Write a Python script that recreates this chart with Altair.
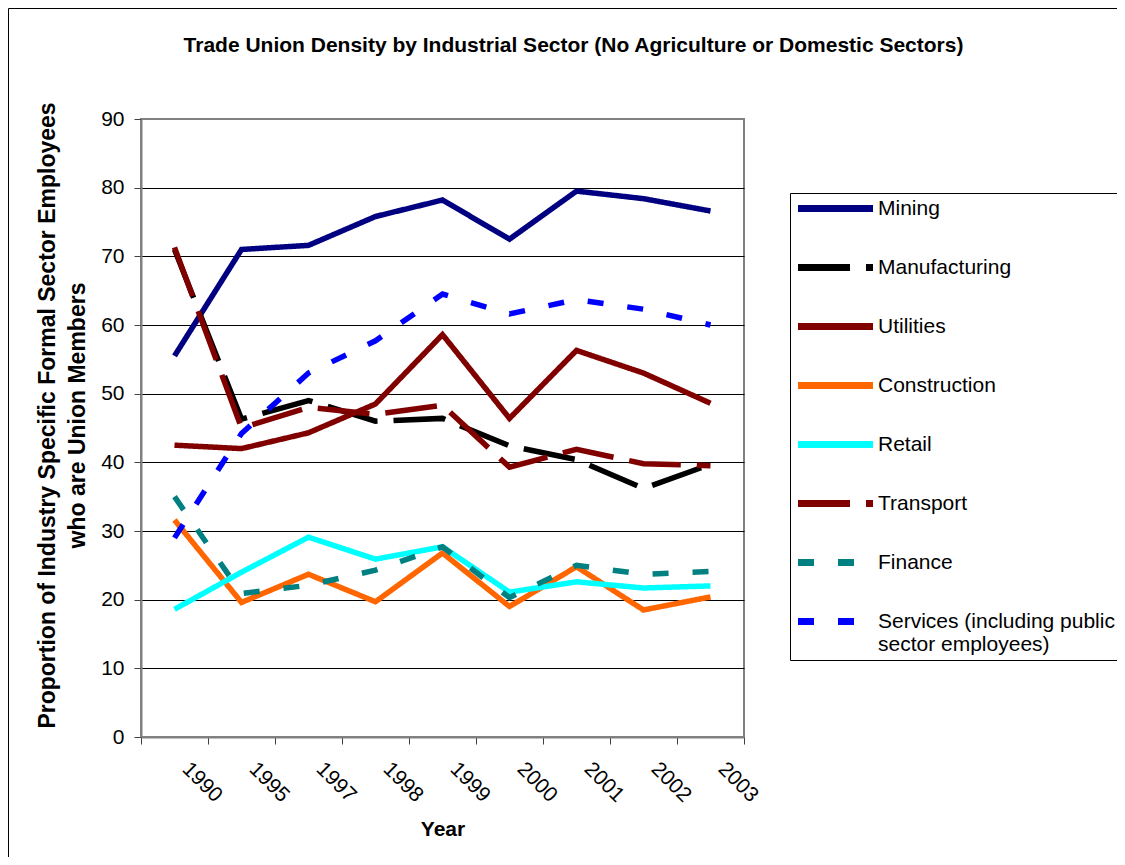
import altair as alt
import pandas as pd

years = ["1990", "1995", "1997", "1998", "1999", "2000", "2001", "2002", "2003"]
sectors = [
    "Mining",
    "Manufacturing",
    "Utilities",
    "Construction",
    "Retail",
    "Transport",
    "Finance",
    "Services (including public sector employees)",
]

mining = [55.5, 71.0, 71.6, 75.8, 78.2, 72.5, 79.5, 78.4, 76.6]
manufacturing = [71.0, 46.3, 49.0, 46.0, 46.4, 42.4, 40.4, 36.2, 39.7]
utilities = [42.5, 42.0, 44.3, 48.5, 58.6, 46.4, 56.3, 53.0, 48.6]
construction = [31.6, 19.6, 23.7, 19.7, 26.8, 19.0, 24.8, 18.5, 20.4]
retail = [18.6, 24.0, 29.1, 25.9, 27.7, 21.1, 22.6, 21.7, 22.0]
transport = [71.3, 45.0, 48.0, 47.0, 48.3, 39.3, 41.9, 39.8, 39.5]
finance = [35.0, 20.9, 22.1, 24.3, 27.7, 20.3, 25.0, 23.7, 24.1]
services = [29.0, 44.2, 53.0, 57.7, 64.5, 61.6, 63.7, 62.3, 60.0]

series = [mining, manufacturing, utilities, construction, retail, transport, finance, services]

colors = ["#000080", "#000000", "#800000", "#FF6600", "#00FFFF", "#800000", "#008080", "#0000FF"]
dashes = [[1, 0], [52, 16], [1, 0], [1, 0], [1, 0], [52, 16], [16, 24], [16, 24]]

rows = []
for name, vals in zip(sectors, series):
    for yr, v in zip(years, vals):
        rows.append({"year": yr, "sector": name, "value": v})
df = pd.DataFrame(rows)

FONT = "Liberation Sans, Arial, sans-serif"

legend = alt.Legend(
    title=None,
    orient="none",
    legendX=649,
    legendY=74,
    direction="vertical",
    columns=1,
    padding=5,
    strokeColor="#000000",
    fillColor="#FFFFFF",
    labelFont=FONT,
    labelFontSize=21,
    labelColor="#000000",
    labelLimit=400,
    labelOffset=32,
    rowPadding=30,
    symbolType="M-6,0H6",
    symbolSize=156.25,
    symbolStrokeWidth=7,
    symbolOffset=30,
    labelExpr="datum.label == 'Services (including public sector employees)' ? ['Services (including public   ', 'sector employees)'] : datum.label",
)

lines = alt.Chart(df).mark_line(strokeWidth=5.5).encode(
    x=alt.X(
        "year:N",
        sort=years,
        bandPosition=0.5,
        scale=alt.Scale(type="band", paddingInner=0, paddingOuter=0),
        axis=alt.Axis(
            title="Year",
            titleFont=FONT,
            titleFontSize=21,
            titleFontWeight="bold",
            titleColor="#000000",
            titleY=92,
            titleBaseline="middle",
            labelAngle=45,
            labelAlign="center",
            labelBaseline="middle",
            labelOffset=27,
            labelPadding=38,
            labelFont=FONT,
            labelFontSize=21,
            labelColor="#000000",
            labelOverlap=False,
            tickBand="extent",
            tickSize=7,
            tickColor="#404040",
            tickWidth=1,
            domainColor="#808080",
            domainWidth=2,
            grid=False,
        ),
    ),
    y=alt.Y(
        "value:Q",
        scale=alt.Scale(domain=[0, 90], nice=False),
        axis=alt.Axis(
            values=list(range(0, 91, 10)),
            title=["Proportion of Industry Specific Formal Sector Employees", "who are Union Members"],
            titleFont=FONT,
            titleFontSize=23,
            titleFontWeight="bold",
            titleColor="#000000",
            titleLineHeight=30,
            titleAngle=270,
            titleAlign="center",
            titleBaseline="bottom",
            titleX=-82,
            titleY=296,
            labelFont=FONT,
            labelFontSize=21,
            labelColor="#000000",
            labelPadding=10,
            tickSize=7,
            tickColor="#404040",
            tickWidth=1,
            domainColor="#808080",
            domainWidth=2,
            grid=True,
            gridColor={"condition": {"test": "datum.value == 0 || datum.value == 90", "value": "#808080"}, "value": "#000000"},
            gridWidth=1,
        ),
    ),
    color=alt.Color("sector:N", sort=sectors, scale=alt.Scale(domain=sectors, range=colors), legend=legend),
    strokeDash=alt.StrokeDash("sector:N", sort=sectors, scale=alt.Scale(domain=sectors, range=dashes), legend=legend),
)

border = alt.Chart(pd.DataFrame({"a": [0]})).mark_rect(
    fillOpacity=0, stroke="#000000", strokeWidth=1
).encode(
    x=alt.value(-132.5), x2=alt.value(1000), y=alt.value(-110.5), y2=alt.value(760)
)

chart = alt.layer(border, lines).properties(
    width=603,
    height=618,
    padding={"left": 133, "top": 111, "right": 373, "bottom": 120},
    autosize=alt.AutoSizeParams(type="none"),
    title=alt.TitleParams(
        text="Trade Union Density by Industrial Sector (No Agriculture or Domestic Sectors)",
        font=FONT,
        fontSize=21,
        fontWeight="bold",
        color="#000000",
        anchor="middle",
        frame="group",
        baseline="bottom",
        offset=0,
        dx=131,
        dy=69,
    ),
).configure_view(stroke="#808080", strokeWidth=2)

chart.save("out.html", embed_options={"renderer": "svg", "actions": False})
